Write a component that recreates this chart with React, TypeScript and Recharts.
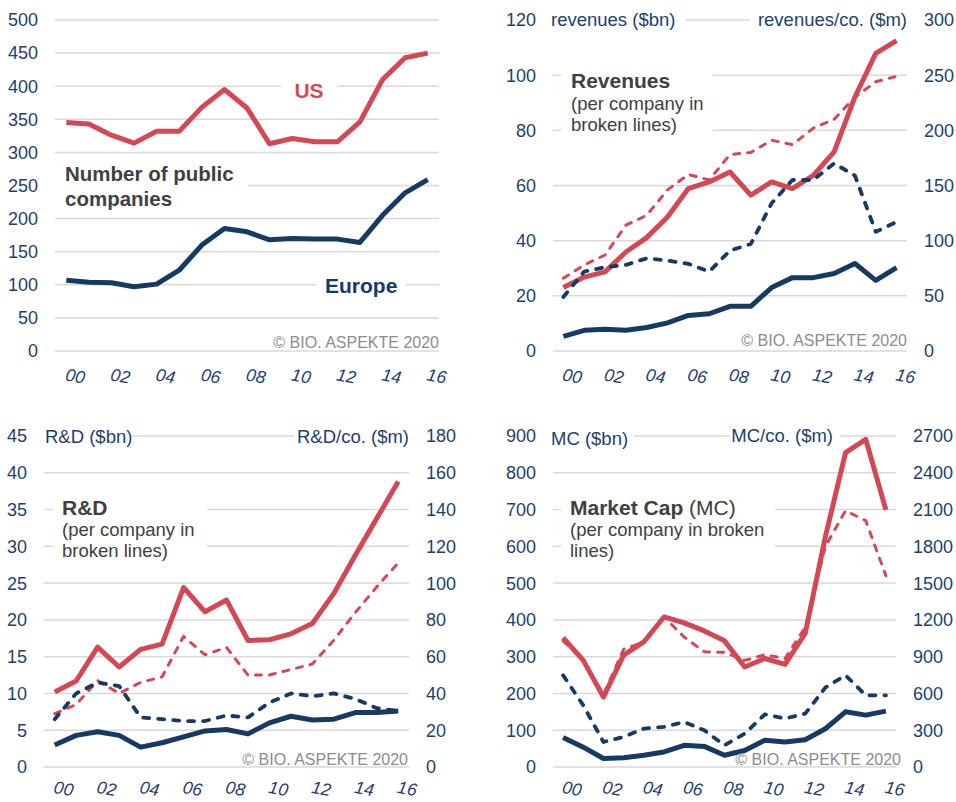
import React from 'react';
import { LineChart, Line, XAxis, YAxis, CartesianGrid } from 'recharts';

const FONT = '"Liberation Sans", Arial, Helvetica, sans-serif';
const RED = '#D24955';
const NAVY = '#173A63';
const TICK = '#1F3F6A';
const GRID = '#D9D9D9';
const DARK = '#404040';
const COPY = '#8C8C8C';

// categories
const years = [2000, 2001, 2002, 2003, 2004, 2005, 2006, 2007, 2008, 2009, 2010, 2011, 2012, 2013, 2014, 2015, 2016];
const yearTicks = [2000, 2002, 2004, 2006, 2008, 2010, 2012, 2014, 2016];
const yearTickLabels = ['00', '02', '04', '06', '08', '10', '12', '14', '16'];

// Number of public companies
const usCompanies = [345, 343, 326, 314, 332, 332, 368, 395, 367, 313, 321, 316, 316, 346, 410, 443, 450];
const euCompanies = [107, 104, 103, 97, 101, 122, 160, 185, 180, 168, 170, 169, 169, 164, 205, 239, 259];

// Revenues ($bn) and per company ($m)
const usRevenue = [23.0, 26.8, 28.7, 35.9, 41.1, 48.6, 58.9, 61.3, 64.9, 56.5, 61.3, 58.9, 63.7, 72.2, 92.1, 107.9, 112.5];
const usRevenuePerCo = [66, 78, 87, 114, 123, 146, 160, 155, 178, 180, 191, 187, 202, 210, 230, 244, 249];
const euRevenue = [5.3, 7.5, 7.9, 7.5, 8.5, 10.2, 12.9, 13.5, 16.2, 16.2, 23.0, 26.6, 26.6, 28.1, 31.7, 25.6, 30.2];
const euRevenuePerCo = [49, 72, 76, 78, 84, 82, 79, 72, 91, 97, 134, 155, 155, 170, 159, 108, 117];

// R&D ($bn) and per company ($m)
const usRD = [10.2, 11.7, 16.3, 13.6, 16.0, 16.7, 24.4, 21.1, 22.7, 17.2, 17.3, 18.1, 19.5, 23.6, 28.8, 33.8, 38.8];
const usRDPerCo = [29, 34, 47, 40, 46, 49, 71, 61, 65, 50, 50, 53, 56, 69, 84, 98, 111];
const euRD = [3.0, 4.3, 4.8, 4.3, 2.7, 3.3, 4.1, 4.9, 5.1, 4.5, 6.0, 6.9, 6.4, 6.5, 7.4, 7.4, 7.6];
const euRDPerCo = [26, 40, 46, 44, 27, 26, 25, 25, 28, 27, 35, 40, 38.5, 40, 37, 32, 30.5];

// Market cap ($bn) and per company ($m)
const usMC = [352, 290, 190, 304, 340, 408, 392, 370, 343, 272, 295, 279, 363, 626, 855, 891, 699];
const usMCPerCo = [1029, 870, 590, 960, 1020, 1225, 1060, 940, 935, 870, 915, 885, 1140, 1800, 2090, 2010, 1560];
const euMC = [80, 54, 23, 25, 32, 41, 59, 56, 32, 45, 73, 68, 74, 104, 150, 141, 152];
const euMCPerCo = [748, 503, 204, 245, 313, 327, 367, 299, 177, 272, 430, 395, 435, 648, 748, 585, 585];

// axis ticks
const companyTicks = [0, 50, 100, 150, 200, 250, 300, 350, 400, 450, 500];
const revenueTicks = [0, 20, 40, 60, 80, 100, 120];
const revenuePerCoTicks = [0, 50, 100, 150, 200, 250, 300];
const rdTicks = [0, 5, 10, 15, 20, 25, 30, 35, 40, 45];
const rdPerCoTicks = [0, 20, 40, 60, 80, 100, 120, 140, 160, 180];
const mcTicks = [0, 100, 200, 300, 400, 500, 600, 700, 800, 900];
const mcPerCoTicks = [0, 300, 600, 900, 1200, 1500, 1800, 2100, 2400, 2700];

function rows(series: Record<string, number[]>) {
  return years.map((year, i) => {
    const r: Record<string, number> = { year };
    Object.keys(series).forEach((k) => {
      r[k] = series[k][i];
    });
    return r;
  });
}

const XTick = (props: any) => {
  const { x, y, payload, labelDy } = props;
  const idx = yearTicks.indexOf(payload.value);
  const label = idx >= 0 ? yearTickLabels[idx] : '';
  const cx = x + 9;
  const cy = y + labelDy;
  return (
    <text
      x={cx}
      y={cy}
      transform={`rotate(10 ${cx} ${cy})`}
      textAnchor="middle"
      dominantBaseline="central"
      fontStyle="italic"
      fontSize={17.5}
      fontFamily={FONT}
      fill={TICK}
    >
      {label}
    </text>
  );
};

type AxisDef = { width: number; domain: [number, number]; ticks: number[] };
type SeriesDef = { key: string; axis: 'left' | 'right'; color: string; dashed?: boolean };

function Panel(props: {
  left: number;
  top: number;
  width: number;
  height: number;
  margin: { top: number; right: number; bottom: number; left: number };
  leftAxis: AxisDef;
  rightAxis?: AxisDef;
  data: Record<string, number>[];
  series: SeriesDef[];
  labelDy: number;
}) {
  const { left, top, width, height, margin, leftAxis, rightAxis, data, series, labelDy } = props;
  const tickStyle = { fill: TICK, fontSize: 18, fontFamily: FONT };
  return (
    <div style={{ position: 'absolute', left, top }}>
      <LineChart width={width} height={height} data={data} margin={margin}>
        <CartesianGrid vertical={false} stroke={GRID} strokeWidth={1.5} yAxisId="left" />
        <XAxis
          dataKey="year"
          type="number"
          domain={[1999.5, 2016.5]}
          ticks={yearTicks}
          interval={0}
          axisLine={false}
          tickLine={false}
          tickSize={0}
          tickMargin={0}
          height={30}
          tick={(p: any) => <XTick {...p} labelDy={labelDy} />}
        />
        <YAxis
          yAxisId="left"
          orientation="left"
          width={leftAxis.width}
          domain={leftAxis.domain}
          ticks={leftAxis.ticks}
          interval={0}
          axisLine={false}
          tickLine={false}
          tickSize={0}
          tickMargin={17}
          tick={tickStyle}
        />
        {rightAxis && (
          <YAxis
            yAxisId="right"
            orientation="right"
            width={rightAxis.width}
            domain={rightAxis.domain}
            ticks={rightAxis.ticks}
            interval={0}
            axisLine={false}
            tickLine={false}
            tickSize={0}
            tickMargin={17}
            tick={tickStyle}
          />
        )}
        {series.map((s) => (
          <Line
            key={s.key}
            yAxisId={s.axis}
            dataKey={s.key}
            type="linear"
            stroke={s.color}
            strokeWidth={s.dashed ? (s.color === NAVY ? 3.8 : 3) : 5}
            strokeDasharray={s.dashed ? (s.color === NAVY ? '6 9' : '6 8') : undefined}
            strokeLinecap={s.dashed ? 'round' : 'butt'}
            strokeLinejoin="round"
            dot={false}
            activeDot={false}
            isAnimationActive={false}
          />
        ))}
      </LineChart>
    </div>
  );
}

const Copyright = ({ x, y }: { x: number; y: number }) => (
  <text x={x} y={y} textAnchor="end" fontSize={16} fontFamily={FONT} fill={COPY}>
    © BIO. ASPEKTE 2020
  </text>
);

export default function App() {
  const companiesData = rows({ us: usCompanies, eu: euCompanies });
  const revenueData = rows({ us: usRevenue, usCo: usRevenuePerCo, eu: euRevenue, euCo: euRevenuePerCo });
  const rdData = rows({ us: usRD, usCo: usRDPerCo, eu: euRD, euCo: euRDPerCo });
  const mcData = rows({ us: usMC, usCo: usMCPerCo, eu: euMC, euCo: euMCPerCo });

  const fourSeries: SeriesDef[] = [
    { key: 'us', axis: 'left', color: RED },
    { key: 'eu', axis: 'left', color: NAVY },
    { key: 'usCo', axis: 'right', color: RED, dashed: true },
    { key: 'euCo', axis: 'right', color: NAVY, dashed: true },
  ];

  return (
    <div style={{ position: 'absolute', left: 0, top: 0, width: 956, height: 802, background: '#fff', fontFamily: FONT, overflow: 'hidden' }}>
      <Panel
        left={0}
        top={0}
        width={478}
        height={400}
        margin={{ top: 20, right: 39, bottom: 19, left: 5 }}
        leftAxis={{ width: 50, domain: [0, 500], ticks: companyTicks }}
        data={companiesData}
        labelDy={25}
        series={[
          { key: 'us', axis: 'left', color: RED },
          { key: 'eu', axis: 'left', color: NAVY },
        ]}
      />
      <Panel
        left={478}
        top={0}
        width={478}
        height={400}
        margin={{ top: 20, right: 9, bottom: 19, left: 25 }}
        leftAxis={{ width: 50, domain: [0, 120], ticks: revenueTicks }}
        rightAxis={{ width: 40, domain: [0, 300], ticks: revenuePerCoTicks }}
        data={revenueData}
        labelDy={25}
        series={fourSeries}
      />
      <Panel
        left={0}
        top={400}
        width={478}
        height={402}
        margin={{ top: 36, right: 29, bottom: 5, left: 4 }}
        leftAxis={{ width: 40, domain: [0, 45], ticks: rdTicks }}
        rightAxis={{ width: 40, domain: [0, 180], ticks: rdPerCoTicks }}
        data={rdData}
        labelDy={21.5}
        series={fourSeries}
      />
      <Panel
        left={478}
        top={400}
        width={478}
        height={402}
        margin={{ top: 36, right: 10, bottom: 5, left: 25 }}
        leftAxis={{ width: 50, domain: [0, 900], ticks: mcTicks }}
        rightAxis={{ width: 50, domain: [0, 2700], ticks: mcPerCoTicks }}
        data={mcData}
        labelDy={21.5}
        series={fourSeries}
      />

      <svg
        width={956}
        height={802}
        style={{ position: 'absolute', left: 0, top: 0, pointerEvents: 'none' }}
        fontFamily={FONT}
      >
        {/* Panel 1 */}
        <rect x={50} y={158} width={198} height={54} fill="#fff" />
        <text x={65} y={181} fontSize={20.5} fontWeight="bold" fill={DARK}>Number of public</text>
        <text x={65} y={206} fontSize={20.5} fontWeight="bold" fill={DARK}>companies</text>
        <rect x={281} y={76} width={56} height={22} fill="#fff" />
        <text x={309} y={98} textAnchor="middle" fontSize={21} fontWeight="bold" fill={RED}>US</text>
        <rect x={316} y={275} width={90} height={22} fill="#fff" />
        <text x={325} y={293} fontSize={21} fontWeight="bold" fill={NAVY}>Europe</text>
        <Copyright x={439} y={348} />

        {/* Panel 2 */}
        <rect x={549} y={9} width={136} height={22} fill="#fff" />
        <text x={551} y={26} fontSize={18.5} fill={TICK}>revenues ($bn)</text>
        <rect x={750} y={9} width={160} height={22} fill="#fff" />
        <text x={907} y={26} textAnchor="end" fontSize={18.5} fill={TICK}>revenues/co. ($m)</text>
        <rect x={561} y={65} width={152} height={72} fill="#fff" />
        <text x={571} y={88} fontSize={21} fontWeight="bold" fill={DARK}>Revenues</text>
        <text x={571} y={110} fontSize={18.5} fill={DARK}>(per company in</text>
        <text x={571} y={131} fontSize={18.5} fill={DARK}>broken lines)</text>
        <Copyright x={907} y={346} />

        {/* Panel 3 */}
        <rect x={40} y={425} width={92} height={22} fill="#fff" />
        <text x={45} y={443} fontSize={18.5} fill={TICK}>R&amp;D ($bn)</text>
        <rect x={294} y={425} width={120} height={22} fill="#fff" />
        <text x={409} y={443} textAnchor="end" fontSize={18.5} fill={TICK}>R&amp;D/co. ($m)</text>
        <rect x={53} y={495} width={154} height={66} fill="#fff" />
        <text x={62} y={515} fontSize={21} fontWeight="bold" fill={DARK}>R&amp;D</text>
        <text x={62} y={536} fontSize={18.5} fill={DARK}>(per company in</text>
        <text x={62} y={557} fontSize={18.5} fill={DARK}>broken lines)</text>
        <Copyright x={408} y={765} />

        {/* Panel 4 */}
        <rect x={548} y={425} width={86} height={24} fill="#fff" />
        <text x={551} y={445} fontSize={18.5} fill={TICK}>MC ($bn)</text>
        <rect x={730} y={425} width={110} height={22} fill="#fff" />
        <text x={833} y={442} textAnchor="end" fontSize={18.5} fill={TICK}>MC/co. ($m)</text>
        <rect x={561} y={495} width={214} height={66} fill="#fff" />
        <text x={570} y={515} fontSize={21} fill={DARK}>
          <tspan fontWeight="bold">Market Cap</tspan>
          <tspan> (MC)</tspan>
        </text>
        <text x={570} y={536} fontSize={18.5} fill={DARK}>(per company in broken</text>
        <text x={570} y={557} fontSize={18.5} fill={DARK}>lines)</text>
        <Copyright x={901} y={765} />
      </svg>
    </div>
  );
}
